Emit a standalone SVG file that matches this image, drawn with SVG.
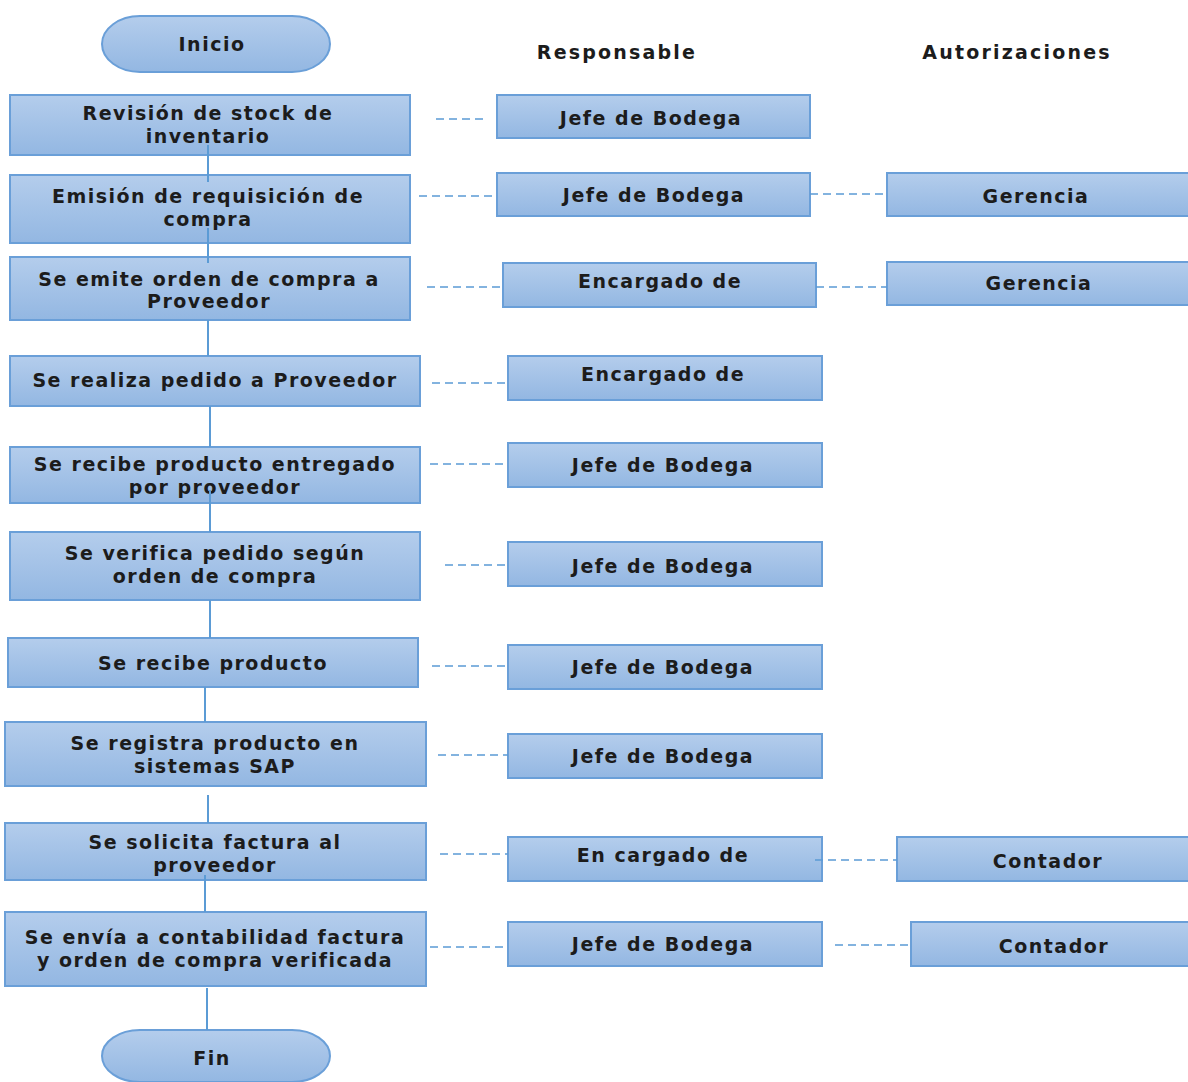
<svg xmlns="http://www.w3.org/2000/svg" width="1188" height="1082" viewBox="0 0 1188 1082">
<defs>
<linearGradient id="g" x1="0" y1="0" x2="0" y2="1">
<stop offset="0" stop-color="#b4cdec"/>
<stop offset="1" stop-color="#93b7e2"/>
</linearGradient>
<style>
.b{fill:url(#g);stroke:#6a9fd8;stroke-width:2}
.t{font-family:"DejaVu Sans",sans-serif;font-weight:bold;font-size:19px;letter-spacing:1.5px;fill:#1c1c1c;text-anchor:middle;dominant-baseline:central}
.h{font-family:"DejaVu Sans",sans-serif;font-weight:bold;font-size:19px;letter-spacing:2.2px;fill:#1c1c1c;text-anchor:middle;dominant-baseline:central}
.s{stroke:#5b9bd5;stroke-width:2;fill:none}
.d{stroke:#5b9bd5;stroke-width:1.6;fill:none;stroke-dasharray:8 5}
</style>
</defs>
<rect width="1188" height="1082" fill="#fff"/>
<text class="h" x="617" y="52">Responsable</text>
<text class="h" x="1017" y="52">Autorizaciones</text>

<g id="inicio"><rect class="b" x="102" y="16" width="228" height="56" rx="38" ry="28"/><text class="t" x="212" y="44">Inicio</text></g>
<g id="n1"><rect class="b" x="10" y="95" width="400" height="60"/><text class="t" x="208" y="113">Revisión de stock de</text><text class="t" x="208" y="136">inventario</text></g>
<g id="n2"><rect class="b" x="10" y="175" width="400" height="68"/><text class="t" x="208" y="196">Emisión de requisición de</text><text class="t" x="208" y="219">compra</text></g>
<g id="n3"><rect class="b" x="10" y="257" width="400" height="63"/><text class="t" x="209" y="279">Se emite orden de compra a</text><text class="t" x="209" y="301">Proveedor</text></g>
<g id="n4"><rect class="b" x="10" y="356" width="410" height="50"/><text class="t" x="215" y="380">Se realiza pedido a Proveedor</text></g>
<g id="n5"><rect class="b" x="10" y="447" width="410" height="56"/><text class="t" x="215" y="464">Se recibe producto entregado</text><text class="t" x="215" y="487">por proveedor</text></g>
<g id="n6"><rect class="b" x="10" y="532" width="410" height="68"/><text class="t" x="215" y="553">Se verifica pedido según</text><text class="t" x="215" y="576">orden de compra</text></g>
<g id="n7"><rect class="b" x="8" y="638" width="410" height="49"/><text class="t" x="213" y="663">Se recibe producto</text></g>
<g id="n8"><rect class="b" x="5" y="722" width="421" height="64"/><text class="t" x="215" y="743">Se registra producto en</text><text class="t" x="215" y="766">sistemas SAP</text></g>
<g id="n9"><rect class="b" x="5" y="823" width="421" height="57"/><text class="t" x="215" y="842">Se solicita factura al</text><text class="t" x="215" y="865">proveedor</text></g>
<g id="n10"><rect class="b" x="5" y="912" width="421" height="74"/><text class="t" x="215" y="937">Se envía a contabilidad factura</text><text class="t" x="215" y="960">y orden de compra verificada</text></g>
<g id="fin"><rect class="b" x="102" y="1030" width="228" height="52" rx="38" ry="28"/><text class="t" x="212" y="1058">Fin</text></g>

<g id="r1"><rect class="b" x="497" y="95" width="313" height="43"/><text class="t" x="651" y="118">Jefe de Bodega</text></g>
<g id="r2"><rect class="b" x="497" y="173" width="313" height="43"/><text class="t" x="654" y="195">Jefe de Bodega</text></g>
<g id="r3"><rect class="b" x="503" y="263" width="313" height="44"/><text class="t" x="660" y="281">Encargado de</text></g>
<g id="r4"><rect class="b" x="508" y="356" width="314" height="44"/><text class="t" x="663" y="374">Encargado de</text></g>
<g id="r5"><rect class="b" x="508" y="443" width="314" height="44"/><text class="t" x="663" y="465">Jefe de Bodega</text></g>
<g id="r6"><rect class="b" x="508" y="542" width="314" height="44"/><text class="t" x="663" y="566">Jefe de Bodega</text></g>
<g id="r7"><rect class="b" x="508" y="645" width="314" height="44"/><text class="t" x="663" y="667">Jefe de Bodega</text></g>
<g id="r8"><rect class="b" x="508" y="734" width="314" height="44"/><text class="t" x="663" y="756">Jefe de Bodega</text></g>
<g id="r9"><rect class="b" x="508" y="837" width="314" height="44"/><text class="t" x="663" y="855">En cargado de</text></g>
<g id="r10"><rect class="b" x="508" y="922" width="314" height="44"/><text class="t" x="663" y="944">Jefe de Bodega</text></g>

<g id="a1"><rect class="b" x="887" y="173" width="303" height="43"/><text class="t" x="1036" y="196">Gerencia</text></g>
<g id="a2"><rect class="b" x="887" y="262" width="303" height="43"/><text class="t" x="1039" y="283">Gerencia</text></g>
<g id="a3"><rect class="b" x="897" y="837" width="293" height="44"/><text class="t" x="1048" y="861">Contador</text></g>
<g id="a4"><rect class="b" x="911" y="922" width="279" height="44"/><text class="t" x="1054" y="946">Contador</text></g>

<g id="connectors">
<path class="s" d="M208 145V182M208 228V263M208 320V356M210 406V447M210 490V532M210 600V638M205 687V722M208 795V823M205 875V912M207 988V1030"/>
<path class="d" d="M436 119H485M419 196H492M427 287H503M432 383H508M430 464H505M445 565H510M432 666H508M438 755H508M440 854H508M430 947H508"/>
<path class="d" d="M810 194H887M816 287H887M815 860H897M835 945H911"/>
</g>
</svg>
